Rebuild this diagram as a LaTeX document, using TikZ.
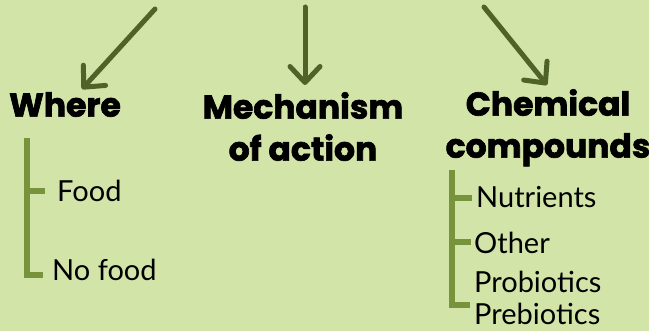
\documentclass[tikz,border=0pt]{standalone}
\usepackage{fontspec}
\setmainfont{Lato}
\newfontfamily\headfont{Poppins}[BoldFeatures={FakeBold=2}]
\usetikzlibrary{arrows.meta}
\definecolor{bggreen}{HTML}{D2E4A8}
\definecolor{arrowgreen}{HTML}{4F6228}
\definecolor{bargreen}{HTML}{77933C}

\begin{document}
\begin{tikzpicture}[x=1pt,y=-1pt]
		\tikzstyle{every node}+=[inner sep=0pt]
		\tikzstyle{head}=[font=\headfont\bfseries\fontsize{33}{42}\selectfont, align=center, anchor=north]
		\tikzstyle{item}=[font=\fontsize{29}{39}\selectfont, align=left]
		\tikzstyle{bigarrow}=[arrowgreen, line width=5pt, line cap=round, -{Straight Barb[length=16pt,width=30pt,line cap=round,line join=round]}]
		\tikzstyle{bar}=[bargreen, line width=6pt]
		\useasboundingbox (0,0) rectangle (649,331);
		\fill [bggreen] (0,0) rectangle (649,331);
		% headings
		\node [head] (where) at (65,92) {Where};
		\node [head] (mech) at (303,92) {Mechanism\\of action};
		\node [head] (chem) at (548,89) {Chemical\\compounds};
		% arrows from above
		\coordinate (s1) at (155,9);
		\coordinate (s2) at (305,7);
		\coordinate (s3) at (484,7);
		\draw [bigarrow] (s1) -- ([shift={(17pt,3pt)}]where.north);
		\draw [bigarrow] (s2) -- ([shift={(2pt,7pt)}]mech.north);
		\draw [bigarrow] (s3) -- ([shift={(-1pt,4pt)}]chem.north);
		% where
		\node [item, anchor=base west] (food) at (57,202) {Food};
		\node [item, anchor=base west] (nofood) at (52,281) {No food};
		\coordinate (wtop) at (27,138);
		\draw [bar] (wtop) |- ([shift={(-9pt,6pt)}]nofood.base west);
		\draw [bar] (wtop |- food.west) -- ([xshift=-12pt]food.west);
		% chemical compounds
		\node [item, anchor=base west] (nutr) at (476,208) {Nutrients};
		\node [item, anchor=north west] (other) at (474,232) {Other\\Probiotics};
		\node [item, anchor=base west] (prebio) at (474,325) {Prebiotics};
		\coordinate (ctop) at (452,170);
		\draw [bar] (ctop) |- ([shift={(-4pt,20pt)}]prebio.base west);
		\draw [bar] (ctop |- nutr.west) -- ([xshift=-4pt]nutr.west);
		\draw [bar] (ctop |- 0,242) -- ([shift={(-3pt,-10pt)}]other.north west);
	\end{tikzpicture}
\end{document}
